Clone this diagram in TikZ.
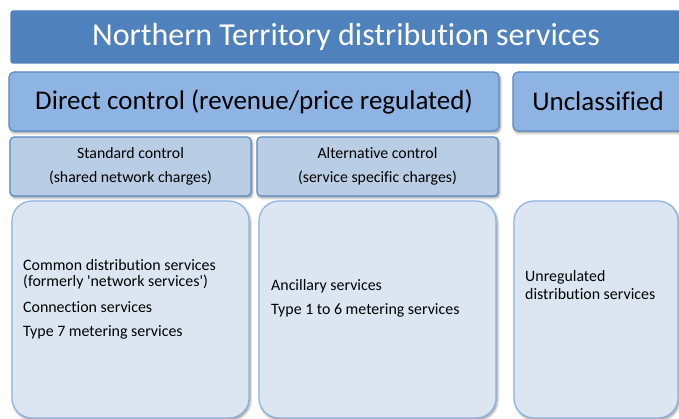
\documentclass[tikz,border=0pt]{standalone}
\usepackage{fontspec}
\setmainfont[Ligatures={TeXOff,NoCommon}]{Carlito}
\usetikzlibrary{shadows.blur}
\definecolor{navy}{HTML}{4F81BD}
\definecolor{midblue}{HTML}{8EB4E3}
\definecolor{paleblue}{HTML}{B9CDE5}
\definecolor{mistblue}{HTML}{DCE6F2}
\definecolor{rimblue}{HTML}{5A8AC6}
\definecolor{softrim}{HTML}{8DB3E2}
\begin{document}
\begin{tikzpicture}[x=1pt,y=-1pt,
  panel/.style={anchor=north west, inner sep=0pt, outer sep=0pt, line width=1.2pt},
  boxshadow/.style={blur shadow={shadow xshift=1.2pt, shadow yshift=-1.8pt, shadow blur steps=6, shadow blur radius=2.5pt, shadow opacity=45}},
  banner/.style={panel, fill=navy, draw=navy, rounded corners=2pt, text=white,
    font=\fontsize{32}{36}\selectfont},
  tier/.style={panel, boxshadow, fill=midblue, draw=rimblue, rounded corners=5pt,
    font=\fontsize{27}{30}\selectfont},
  subtier/.style={panel, boxshadow, fill=paleblue, draw=rimblue, rounded corners=4pt,
    align=center, font=\fontsize{15.8}{24}\selectfont},
  listbox/.style={panel, boxshadow, fill=mistblue, draw=softrim, rounded corners=20pt},
  item/.style={anchor=base west, inner sep=0pt, font=\fontsize{15.9}{17}\selectfont}
]
\useasboundingbox (0,0) rectangle (679,419);
\clip (0,0) rectangle (679,419);

% heading bar
\node[banner, minimum width=670pt, minimum height=52pt] (title) at (11,11)
  {Northern Territory distribution services};

% classification tiers
\node[tier, minimum width=490pt, minimum height=59pt] (direct) at (9,72)
  {Direct control (revenue/price regulated)};
\node[tier, minimum width=170pt, minimum height=59pt] (uncl) at (513,72)
  {Unclassified};

% control types
\node[subtier, minimum width=241pt, minimum height=59pt] (std) at (10,137)
  {Standard control\\(shared network charges)};
\node[subtier, minimum width=241pt, minimum height=59pt] (alt) at (257,137)
  {Alternative control\\(service specific charges)};

% service lists
\node[listbox, minimum width=237pt, minimum height=217pt] (list1) at (12,201) {};
\node[listbox, minimum width=237pt, minimum height=217pt] (list2) at (259,201) {};
\node[listbox, minimum width=164pt, minimum height=217pt] (list3) at (514,201) {};

\node[item] (s1a) at (23,270.5) {Common distribution services};
\node[item] (s1b) at (23,287) {(formerly 'network services')};
\node[item] (s1c) at (23,312) {Connection services};
\node[item] (s1d) at (23,336) {Type 7 metering services};

\node[item] (s2a) at (271,290.5) {Ancillary services};
\node[item] (s2b) at (271,314.5) {Type 1 to 6 metering services};

\node[item] (s3a) at (525,281.5) {Unregulated};
\node[item] (s3b) at (525,299) {distribution services};
\end{tikzpicture}
\end{document}
